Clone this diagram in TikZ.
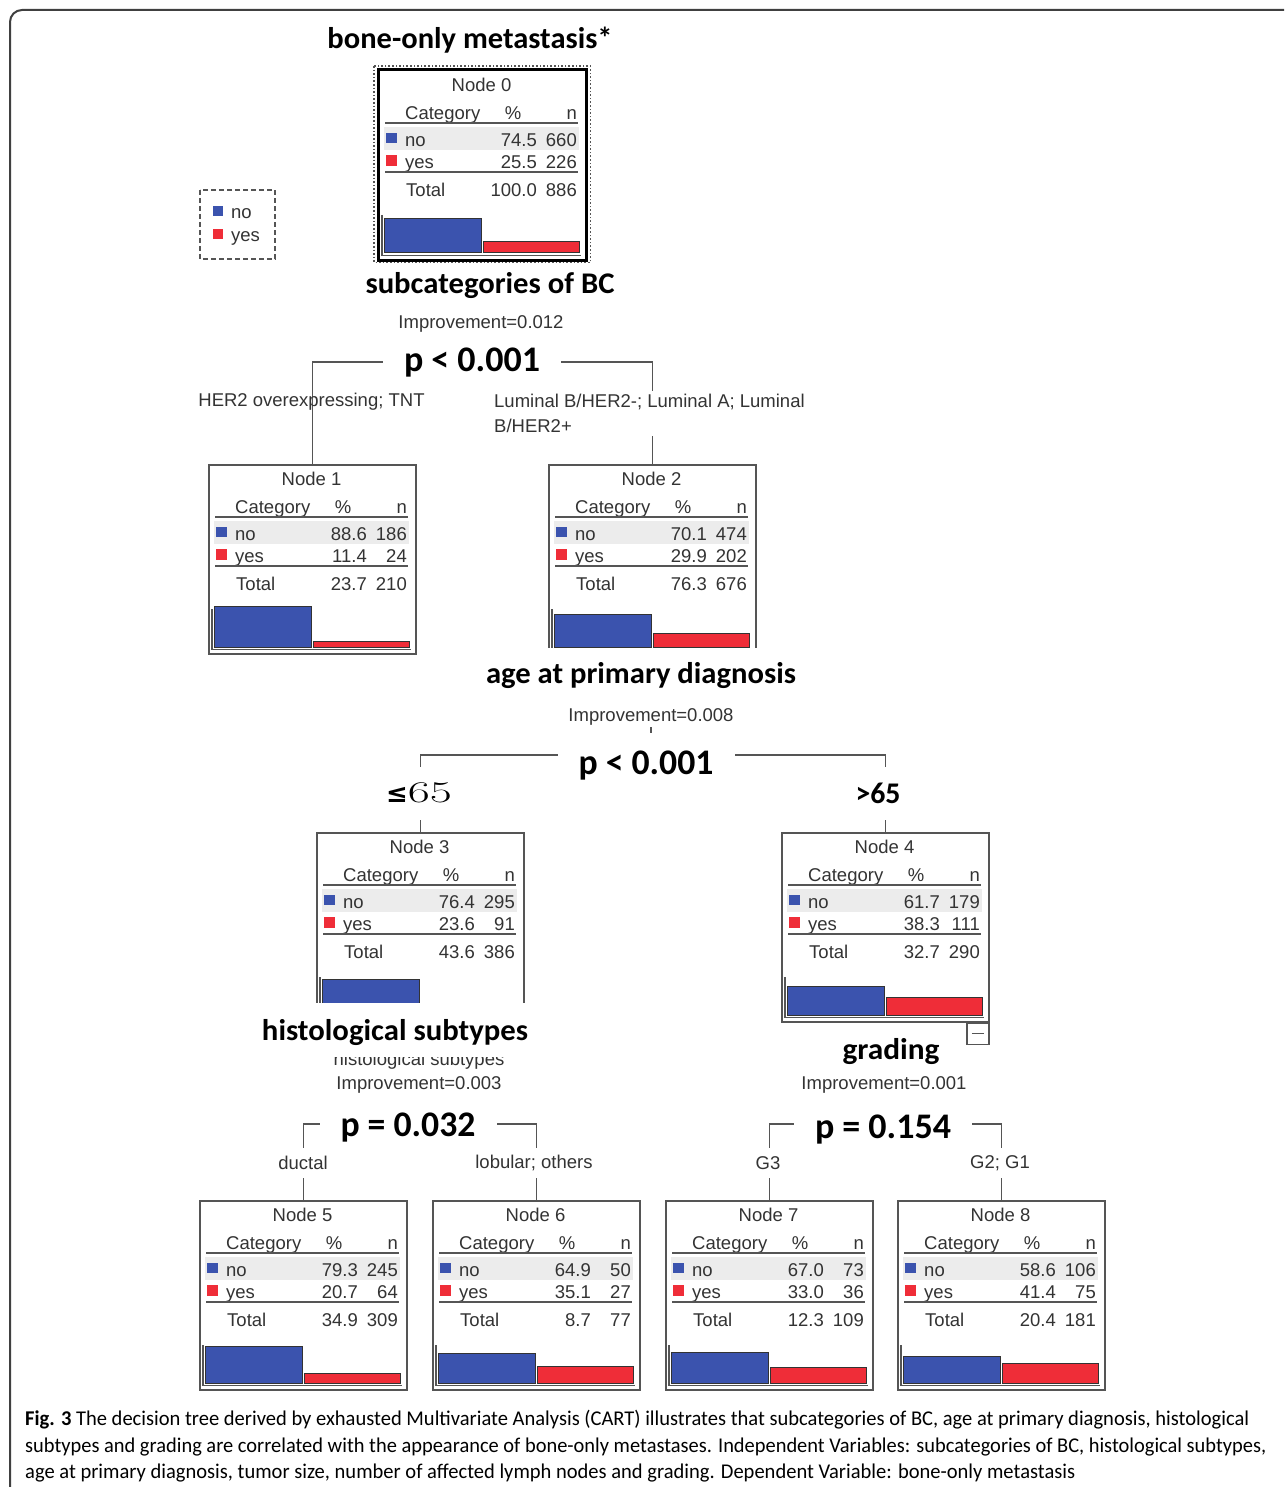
\documentclass[tikz,border=0pt]{standalone}
\usepackage{fontspec}
\usepackage{graphicx}
\newfontfamily\spss{Liberation Sans}
\newfontfamily\calb{Carlito}
\newfontfamily\dejab{DejaVu Sans}
\definecolor{barblue}{HTML}{3B53AE}
\definecolor{barred}{HTML}{EF2D38}
\definecolor{txt}{HTML}{333333}
\definecolor{band}{HTML}{ECECEC}
\definecolor{lin}{HTML}{555555}
\newcommand\fitw[2]{\resizebox{#1}{\height}{#2}}
\tikzset{
  conn/.style={draw=lin, line width=1.3pt},
  sp/.style={font=\spss\fontsize{18.5}{22}\selectfont, text=txt, inner sep=0pt},
  ttl/.style={font=\calb\bfseries\fontsize{30}{32}\selectfont, inner sep=0pt},
  pval/.style={font=\calb\bfseries\fontsize{36}{38}\selectfont, inner xsep=21pt, inner ysep=2pt, fill=white},
  lbl/.style={sp, fill=white, minimum height=30pt},
  box/.style={draw=lin, fill=white, line width=1.5pt, minimum width=207pt, minimum height=189pt, inner sep=0pt, anchor=north west},
  bar/.style={draw=black!80, line width=1pt},
  captext/.style={font=\calb\fontsize{21}{26}\selectfont, inner sep=0pt, anchor=base west},
}
\newcommand\spssnode[9]{%
  \node[box] (n#1) at (#2,#3) {};
  \begin{scope}[shift={(#2,#3)}]
    \fill[band] (6,57) rectangle (201,80);
    \node[sp] at (103.5,15) {Node #1};
    \node[sp, anchor=mid west] at (27,47) {Category};
    \node[sp, anchor=mid] at (135,47) {\%};
    \node[sp, anchor=mid east] at (199,47) {n};
    \draw[lin, line width=1.5pt] (7,53) -- (200,53);
    \fill[barblue] (8,63) rectangle (19,73);
    \node[sp, anchor=mid west] at (27,74) {no};
    \node[sp, anchor=mid east] at (159,74) {#4};
    \node[sp, anchor=mid east] at (199,74) {#5};
    \fill[barred] (8,85) rectangle (19,96);
    \node[sp, anchor=mid west] at (27,96) {yes};
    \node[sp, anchor=mid east] at (159,96) {#6};
    \node[sp, anchor=mid east] at (199,96) {#7};
    \draw[lin, line width=1.5pt] (7,102) -- (200,102);
    \node[sp, anchor=mid west] at (28,124) {Total};
    \node[sp, anchor=mid east] at (159,124) {#8};
    \node[sp, anchor=mid east] at (199,124) {#9};
    \draw[lin, line width=1.2pt] (4,145) -- (4,185.5) -- (203,185.5);
    \draw[bar, fill=barblue] (6,{183-0.46*#4}) rectangle (103,183);
    \draw[bar, fill=barred] (105,{183-0.46*#6}) rectangle (201,183);
  \end{scope}}
\begin{document}
\begin{tikzpicture}[x=1pt, y=-1pt]
\useasboundingbox (0,0) rectangle (1284,1487);
\fill[white] (0,0) rectangle (1284,1487);
\clip (0,0) rectangle (1284,1487);
% frame
\draw[black!75, line width=2pt, rounded corners=12pt] (10,1520) -- (10,10) -- (1320,10);

% split points
\coordinate (j1) at (481,362);
\coordinate (j2) at (651,755);
\coordinate (j3) at (419,1124);
\coordinate (j4) at (884,1124);

% nodes
\spssnode{0}{378}{70}{74.5}{660}{25.5}{226}{100.0}{886}
\draw[black, line width=3pt] (n0.north west) rectangle (n0.south east);
\draw[lin, dotted, line width=1.6pt] ([xshift=-4pt,yshift=4pt]n0.north west) rectangle ([xshift=4pt,yshift=-2pt]n0.south east);
\spssnode{1}{208}{464}{88.6}{186}{11.4}{24}{23.7}{210}
\spssnode{2}{548}{464}{70.1}{474}{29.9}{202}{76.3}{676}
\spssnode{3}{316}{832}{76.4}{295}{23.6}{91}{43.6}{386}
\spssnode{4}{781}{832}{61.7}{179}{38.3}{111}{32.7}{290}
\spssnode{5}{199}{1200}{79.3}{245}{20.7}{64}{34.9}{309}
\spssnode{6}{432}{1200}{64.9}{50}{35.1}{27}{8.7}{77}
\spssnode{7}{665}{1200}{67.0}{73}{33.0}{36}{12.3}{109}
\spssnode{8}{897}{1200}{58.6}{106}{41.4}{75}{20.4}{181}

% connectors
\draw[conn] (n1.north) |- (j1) -| (n2.north);
\draw[conn] (n3.north) |- (j2) -| (n4.north);
\draw[conn] (n5.north) |- (j3) -| (n6.north);
\draw[conn] (n7.north) |- (j4) -| (n8.north);
\draw[conn] (651,727) -- (651,733);

% collapse box under node 4
\node[draw=lin, line width=1.3pt, minimum width=22pt, minimum height=21pt, inner sep=0pt, anchor=north east] (m4) at (n4.south east) {};
\draw[lin, line width=1.3pt] ([xshift=-6pt]m4.center) -- ([xshift=6pt]m4.center);

% legend
\draw[lin, line width=1.5pt, dash pattern=on 5pt off 3pt] (200,190) rectangle (275,259);
\fill[barblue] (213,206) rectangle (223,216);
\node[sp, anchor=mid west] (lgno) at (231,216) {no};
\fill[barred] (213,229) rectangle (223,239);
\node[sp, anchor=mid west] (lgyes) at (231,239) {yes};

% titles
\node[ttl] (t0) at (470,40) {\fitw{285pt}{bone-only metastasis*}};
\node[ttl, fill=white, inner sep=3pt] (t1) at (490,286) {\fitw{249pt}{subcategories of BC}};
\node[sp] (i1) at (481,324) {Improvement=0.012};
\node[pval] (p1) at (472,363) {\fitw{136pt}{p < 0.001}};
\node[sp] (l1a) at (311.5,402) {HER2 overexpressing; TNT};
\node[sp, fill=white, inner sep=3pt, align=left, anchor=north west, font=\spss\fontsize{18.5}{25}\selectfont] (l1b) at (491,391) {Luminal B/HER2-; Luminal A; Luminal\\B/HER2+};

\fill[white] (540,647.5) rectangle (770,700);
\node[ttl] (t2) at (641,676) {\fitw{310pt}{age at primary diagnosis}};
\node[sp] (i2) at (651,717) {Improvement=0.008};
\node[pval] (p2) at (646,766) {\fitw{135pt}{p < 0.001}};
\node[fill=white, minimum height=53pt, inner xsep=2pt, inner ysep=0pt] (l2a) at (419,793) {{\dejab\bfseries\fontsize{26}{28}\selectfont ≤}\fitw{44pt}{\fontsize{30}{32}\selectfont 65}};
\node[ttl, fill=white, minimum height=53pt, inner xsep=2pt] (l2b) at (878,793) {\fitw{45pt}{>65}};

\node[sp] (s3) at (419,1061) {histological subtypes};
\fill[white] (300,1003) rectangle (560,1057);
\node[ttl] (t3) at (395,1033) {\fitw{266pt}{histological subtypes}};
\node[sp] (i3) at (419,1085) {Improvement=0.003};
\node[pval] (p3) at (408,1128) {\fitw{135pt}{p = 0.032}};
\node[lbl] (l3a) at (303,1163) {ductal};
\node[lbl] (l3b) at (534,1163) {lobular; others};

\node[ttl] (t4) at (891,1052) {\fitw{97pt}{grading}};
\node[sp] (i4) at (884,1085) {Improvement=0.001};
\node[pval] (p4) at (883,1130) {\fitw{136pt}{p = 0.154}};
\node[lbl] (l4a) at (768,1163) {G3};
\node[lbl] (l4b) at (1000,1163) {G2; G1};

% caption
\node[captext] (c1) at (25,1425) {\fitw{1224pt}{\textbf{Fig. 3} The decision tree derived by exhausted Multivariate Analysis (CART) illustrates that subcategories of BC, age at primary diagnosis, histological}};
\node[captext] (c2) at (25,1452) {\fitw{1241pt}{subtypes and grading are correlated with the appearance of bone-only metastases. Independent Variables: subcategories of BC, histological subtypes,}};
\node[captext] (c3) at (25,1478) {\fitw{1050pt}{age at primary diagnosis, tumor size, number of affected lymph nodes and grading. Dependent Variable: bone-only metastasis}};
\end{tikzpicture}
\end{document}
